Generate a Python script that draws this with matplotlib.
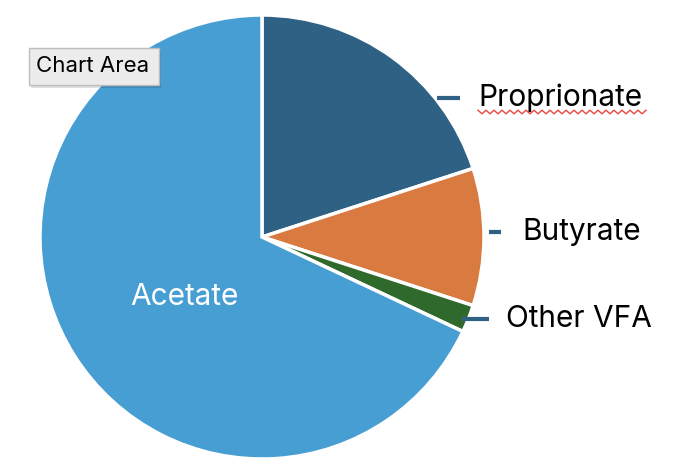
import matplotlib.pyplot as plt
import numpy as np
from matplotlib.patches import FancyBboxPatch

labels = ['Proprionate', 'Butyrate', 'Other VFA', 'Acetate']
values = [20, 10, 2, 68]
colors = ['#2E6183', '#D97A41', '#2F6A2C', '#479ED2']

plt.rcParams['font.family'] = ['Inter', 'DejaVu Sans']

fig = plt.figure(figsize=(6.84, 4.76), dpi=100)
ax = fig.add_axes([0, 0, 1, 1])

H = 476
ax.pie(values, colors=colors, startangle=90, counterclock=False,
       center=(262, H - 237), radius=222, frame=True,
       wedgeprops=dict(edgecolor='white', linewidth=2.5))
ax.set_xlim(0, 684)
ax.set_ylim(0, 476)
ax.set_aspect('equal')
ax.axis('off')

# outside labels with short leader dashes
lead = '#2E6183'
outside = [(labels[0], 437, 460, 98, 478), (labels[1], 489, 501, 232, 522),
           (labels[2], 462, 489, 319, 506)]
for name, x0, x1, y, tx in outside:
    ax.plot([x0, x1], [H - y, H - y], color=lead, lw=3, solid_capstyle='butt')
    ax.text(tx, H - y, name, fontsize=21.5, va='center', ha='left', color='black')

ax.text(184, H - 297, labels[3], fontsize=21.5, va='center', ha='center', color='white')

# spell-check squiggle under Proprionate
xs = np.arange(478, 648, 4.0)
ys = H - 112 + np.where(np.arange(len(xs)) % 2 == 0, 1.8, -1.8)
ax.plot(xs, ys, color='#E8453C', lw=1)

# "Chart Area" tooltip
shadow = FancyBboxPatch((31, H - 88), 130, 37, boxstyle='square,pad=0',
                        facecolor='#000000', alpha=0.12, edgecolor='none')
ax.add_patch(shadow)
tip = FancyBboxPatch((29, H - 85), 130, 37, boxstyle='square,pad=0',
                     facecolor='#ECECEC', edgecolor='#BDBDBD', lw=1)
ax.add_patch(tip)
ax.text(93, H - 66.5, 'Chart Area', fontsize=16, va='center', ha='center', color='black')

plt.savefig('out.png', dpi=100)
